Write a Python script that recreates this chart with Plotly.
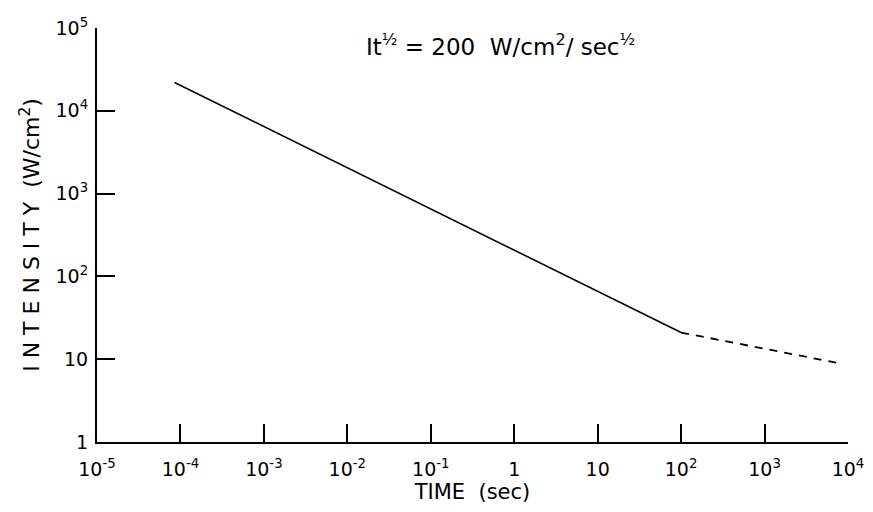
import plotly.graph_objects as go

# Data
solid_time = [8.5e-5, 1e2]
solid_intensity = [2.2e4, 21]
dashed_time = [1e2, 8e3]
dashed_intensity = [21, 8.9]

x_tickvals = [1e-5, 1e-4, 1e-3, 1e-2, 1e-1, 1, 10, 1e2, 1e3, 1e4]
x_ticktext = ["10<sup>-5</sup>", "10<sup>-4</sup>", "10<sup>-3</sup>", "10<sup>-2</sup>",
              "10<sup>-1</sup>", "1", "10", "10<sup>2</sup>", "10<sup>3</sup>", "10<sup>4</sup>"]
y_tickvals = [1, 10, 1e2, 1e3, 1e4, 1e5]
y_ticktext = ["1", "10", "10<sup>2</sup>", "10<sup>3</sup>", "10<sup>4</sup>", "10<sup>5</sup>"]

FONT = "DejaVu Sans"

fig = go.Figure()
fig.add_trace(go.Scatter(x=solid_time, y=solid_intensity, mode="lines",
                         line=dict(color="black", width=1.6), showlegend=False))
fig.add_trace(go.Scatter(x=dashed_time, y=dashed_intensity, mode="lines",
                         line=dict(color="black", width=1.8, dash="8px,7px"), showlegend=False))

fig.update_layout(
    width=873, height=512,
    margin=dict(l=97, r=25, t=28, b=70),
    plot_bgcolor="white", paper_bgcolor="white",
    font=dict(family=FONT, color="black", size=19),
    xaxis=dict(type="log", range=[-5, 4], tickvals=x_tickvals, ticktext=x_ticktext,
               ticks="inside", ticklen=18, tickwidth=1.5, tickcolor="black",
               showline=True, linecolor="black", linewidth=2, showgrid=False, zeroline=False,
               automargin=False, ticklabelstandoff=9,
               tickfont=dict(size=19, family=FONT),
               title=dict(text="TIME  (sec)", font=dict(size=21, family=FONT), standoff=4)),
    yaxis=dict(type="log", range=[0, 5], tickvals=y_tickvals, ticktext=y_ticktext,
               ticks="inside", ticklen=18, tickwidth=1.5, tickcolor="black",
               showline=True, linecolor="black", linewidth=2, showgrid=False, zeroline=False,
               automargin=False, ticklabelstandoff=3,
               tickfont=dict(size=19, family=FONT),
               title=dict(text="I N T E N S I T Y  (W/cm<sup>2</sup>)", font=dict(size=22, family=FONT), standoff=10)),
    annotations=[dict(
        text="It<sup>½</sup> = 200  W/cm<sup>2</sup>/ sec<sup>½</sup>",
        xref="paper", yref="paper", x=0.537, y=0.96, showarrow=False,
        font=dict(size=23, family=FONT), xanchor="center", yanchor="middle")],
)

fig.write_html("out.html", config={"displayModeBar": False},
               post_script="document.body.style.margin='0';document.body.style.overflow='hidden';")
